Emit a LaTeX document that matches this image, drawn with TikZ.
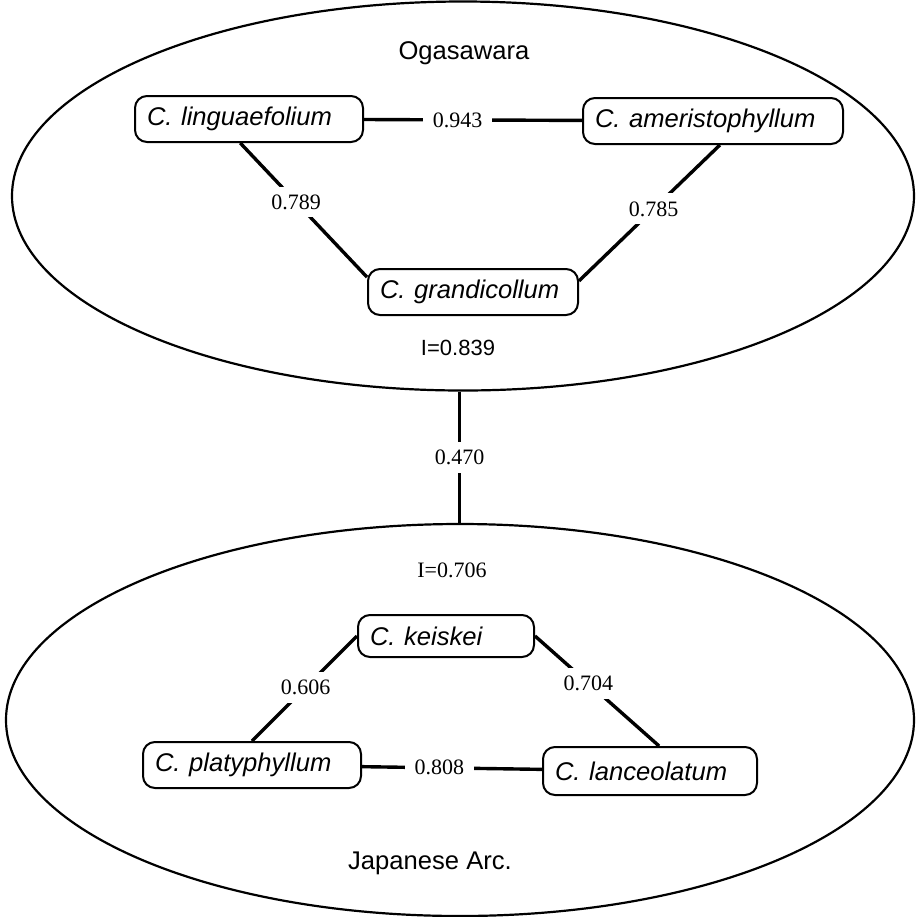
\documentclass[tikz,border=0pt]{standalone}
\usepackage{fontspec}
\setmainfont{Liberation Serif}
\setsansfont{Liberation Sans}
\usetikzlibrary{shapes.geometric}

\begin{document}
\begin{tikzpicture}[x=0.5pt,y=-0.5pt,
		taxon/.style={draw,line width=1pt,rounded corners=6pt,align=left,inner xsep=6pt,minimum height=23pt,font=\sffamily\itshape\fontsize{12.8}{15}\selectfont},
		region/.style={draw,ellipse,line width=1.1pt,inner sep=0pt},
		place/.style={font=\sffamily\fontsize{12.8}{15}\selectfont},
		link/.style={line width=1.7pt},
		dist/.style={fill=white,inner xsep=5pt,inner ysep=4pt,font=\fontsize{11}{13}\selectfont}]
		\useasboundingbox (0,0) rectangle (917,917);

		\node[region,minimum width=451pt,minimum height=194.5pt] (ogas) at (463,196) {};
		\node[region,minimum width=454pt,minimum height=196pt] (jap) at (460,720) {};

		\node[place] (ogastitle) at (464,53) {Ogasawara};
		\node[place] (japtitle) at (430,863) {Japanese Arc.};
		\node[font=\sffamily\fontsize{11}{13}\selectfont] (ogasI) at (458,348) {I=0.839};
		\node[font=\fontsize{11}{13}\selectfont] (japI) at (452,570) {I=0.706};

		\node[taxon,text width=102pt] (ling) at (249,119) {C. linguaefolium};
		\node[taxon,text width=118pt] (amer) at (713,121) {C. ameristophyllum};
		\node[taxon,text width=93pt] (gran) at (473,292) {C. grandicollum};
		\node[taxon,text width=76pt,minimum height=21pt] (keis) at (446,636) {C. keiskei};
		\node[taxon,text width=97pt] (plat) at (252,765) {C. platyphyllum};
		\node[taxon,text width=95pt,minimum height=24pt] (lanc) at (650,771) {C. lanceolatum};

		\draw[link] (ling) -- node[dist,pos=0.43] {0.943} (amer);
		\draw[link] (ling.-110) -- node[dist,pos=0.44] {0.789} (gran.172);
		\draw[link] (amer.-74) -- node[dist,pos=0.47] {0.785} (gran.6);

		\draw[link] (keis.west) -- node[dist,pos=0.49] {0.606} (plat.north);
		\draw[link] (keis.east) -- node[dist,pos=0.43] {0.704} (lanc.70);
		\draw[link] (plat) -- node[dist,pos=0.43] {0.808} (lanc);

		\draw[link] (ogas.-91) -- node[dist,pos=0.5] {0.470} (ogas.-91 |- jap.north);
\end{tikzpicture}
\end{document}
